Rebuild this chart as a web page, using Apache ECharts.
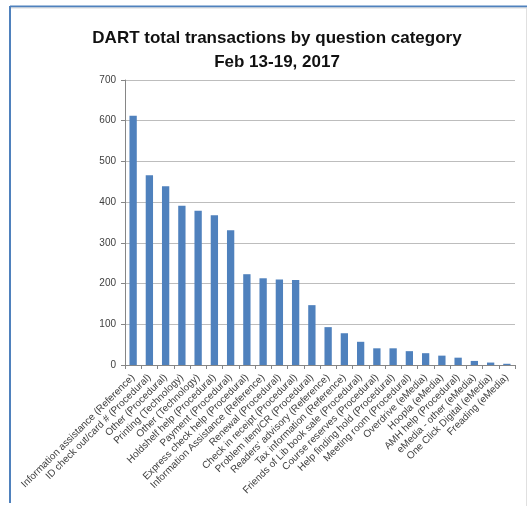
<!DOCTYPE html>
<html>
<head>
<meta charset="utf-8">
<script src="https://cdn.jsdelivr.net/npm/echarts@6/dist/echarts.min.js"></script>
<style>
html,body{margin:0;padding:0;background:#fff;}
#chart{width:527px;height:506px;}
</style>
</head>
<body>
<div id="chart"></div>
<script>
const categories = [
  "Information assistance (Reference)",
  "ID check out/card # (Procedural)",
  "Other (Procedural)",
  "Printing (Technology)",
  "Other (Technology)",
  "Holdshelf help (Procedural)",
  "Payment (Procedural)",
  "Express check help (Procedural)",
  "Information Assistance (Reference)",
  "Renewal (Procedural)",
  "Check in receipt (Procedural)",
  "Problem item/CR (Procedural)",
  "Readers' advisory (Reference)",
  "Tax information (Reference)",
  "Friends of Lib book sale (Procedural)",
  "Course reserves (Procedural)",
  "Help finding hold (Procedural)",
  "Meeting room (Procedural)",
  "Overdrive (eMedia)",
  "Hoopla (eMedia)",
  "AMH help (Procedural)",
  "eMedia - other (eMedia)",
  "One Click Digital (eMedia)",
  "Freading (eMedia)"
];
const transactions = [612, 466, 439, 391, 379, 368, 331, 223, 213, 210, 209, 147, 93, 78, 57, 41, 41, 34, 29, 23, 18, 10, 6, 3];
const titleLines = ["DART total transactions by question category", "Feb 13-19, 2017"];

const chart = echarts.init(document.getElementById('chart'));
const font = "'Liberation Sans', Arial, sans-serif";
chart.setOption({
  animation: false,
  backgroundColor: '#ffffff',
  graphic: [
    { type: 'line', shape: { x1: 10, y1: 6.5, x2: 527, y2: 6.5 }, style: { stroke: '#4f81bd', lineWidth: 2 } },
    { type: 'line', shape: { x1: 10, y1: 8, x2: 527, y2: 8 }, style: { stroke: '#d9d9d9', lineWidth: 1 } },
    { type: 'line', shape: { x1: 10, y1: 6, x2: 10, y2: 503 }, style: { stroke: '#4f81bd', lineWidth: 2 } },
    { type: 'line', shape: { x1: 526.5, y1: 8, x2: 526.5, y2: 506 }, style: { stroke: '#e0e0e0', lineWidth: 1 } }
  ],
  title: {
    text: titleLines.join('\n'),
    left: 272,
    top: 22,
    textAlign: 'center',
    textStyle: { fontFamily: font, fontSize: 17, fontWeight: 'bold', color: '#111', lineHeight: 23.5 }
  },
  grid: { left: 125, right: 12, top: 80, bottom: 141, containLabel: false },
  xAxis: {
    type: 'category',
    data: categories,
    axisLine: { lineStyle: { color: '#868686' } },
    axisTick: { show: true, alignWithLabel: false, length: 4, lineStyle: { color: '#868686' } },
    axisLabel: { rotate: 45, interval: 0, fontFamily: font, fontSize: 10, color: '#404040', margin: 11 }
  },
  yAxis: {
    type: 'value',
    min: 0, max: 700, interval: 100,
    axisLine: { show: true, lineStyle: { color: '#868686' } },
    axisTick: { show: true, length: 4, lineStyle: { color: '#868686' } },
    splitLine: { lineStyle: { color: '#bdbdbd' } },
    axisLabel: { fontFamily: font, fontSize: 10, color: '#404040', margin: 9 }
  },
  series: [{
    type: 'bar',
    data: transactions,
    barWidth: '45%',
    itemStyle: { color: '#4f81bd' }
  }]
});
</script>
</body>
</html>
